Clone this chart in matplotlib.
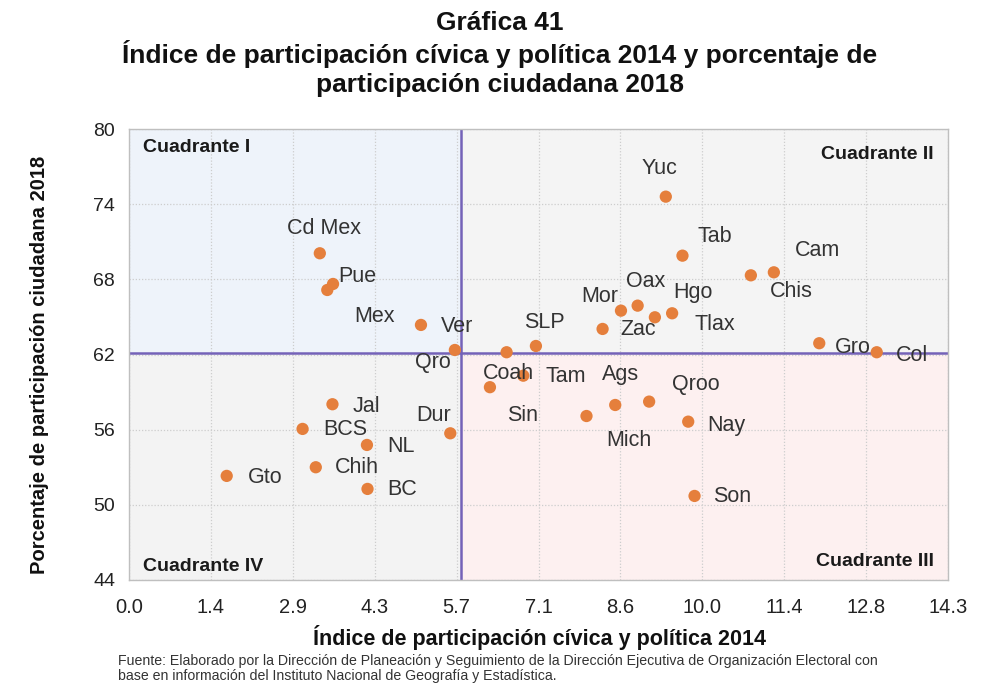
import matplotlib
matplotlib.use("Agg")
import matplotlib.pyplot as plt

# data
estados = ["Cd Mex", "Pue", "Mex", "Ver", "Qro", "Yuc", "Tab", "Chis", "Cam", "Mor",
           "Oax", "Zac", "Hgo", "Tlax", "SLP", "Gro", "Col", "Coah", "Tam", "Sin",
           "Mich", "Ags", "Qroo", "Nay", "Son", "Jal", "BCS", "NL", "Chih", "Gto",
           "BC", "Dur"]
indice_2014 = [3.32, 3.55, 3.45, 5.08, 5.67, 9.34, 9.63, 10.82, 11.22, 8.56,
               8.85, 8.24, 9.15, 9.45, 7.08, 12.01, 13.01, 6.57, 6.86, 6.28,
               7.96, 8.46, 9.05, 9.73, 9.84, 3.54, 3.02, 4.14, 3.25, 1.70,
               4.15, 5.59]
participacion_2018 = [70.08, 67.63, 67.15, 64.36, 62.36, 74.60, 69.89, 68.32, 68.56, 65.50,
                      65.90, 64.04, 64.97, 65.29, 62.68, 62.90, 62.18, 62.18, 60.31, 59.39,
                      57.09, 57.97, 58.24, 56.64, 50.71, 58.03, 56.06, 54.78, 53.00, 52.31,
                      51.27, 55.71]
media_x = 5.78
media_y = 62.12
x_ticklabels = ["0.0", "1.4", "2.9", "4.3", "5.7", "7.1", "8.6", "10.0", "11.4", "12.8", "14.3"]
y_ticks = [44, 50, 56, 62, 68, 74, 80]

# label offsets in pixels (dx, dy) from each point
offsets = {
    "Cd Mex": (4, 25), "Pue": (24, 7), "Mex": (47, -27), "Ver": (36, -2), "Qro": (-22, -13),
    "Yuc": (-6, 28), "Tab": (32, 19), "Chis": (40, -16), "Cam": (44, 22), "Mor": (-21, 14),
    "Oax": (8, 24), "Zac": (36, -1), "Hgo": (38, 25), "Tlax": (43, -11), "SLP": (8, 23),
    "Gro": (34, -4), "Col": (35, -3), "Coah": (2, -21), "Tam": (42, -1), "Sin": (33, -28),
    "Mich": (42, -24), "Ags": (5, 30), "Qroo": (47, 17), "Nay": (38, -4), "Son": (38, -1),
    "Jal": (34, -2), "BCS": (43, -1), "NL": (34, -2), "Chih": (41, 0), "Gto": (38, -2),
    "BC": (35, -1), "Dur": (-17, 18),
}

plt.rcParams["font.family"] = ["Liberation Sans", "DejaVu Sans"]

fig = plt.figure(figsize=(9.9, 6.92), dpi=100)
ax = fig.add_axes([129 / 990, 1 - 580 / 692, 819 / 990, 451 / 692])

xmin, xmax = 0, 14.25
ymin, ymax = 44, 80
ax.set_xlim(xmin, xmax)
ax.set_ylim(ymin, ymax)

# quadrant backgrounds
frac = (media_y - ymin) / (ymax - ymin)
ax.axvspan(xmin, media_x, ymin=frac, ymax=1, color="#EEF3FA", zorder=0, lw=0)
ax.axvspan(media_x, xmax, ymin=frac, ymax=1, color="#F4F4F4", zorder=0, lw=0)
ax.axvspan(media_x, xmax, ymin=0, ymax=frac, color="#FDF0F0", zorder=0, lw=0)
ax.axvspan(xmin, media_x, ymin=0, ymax=frac, color="#F3F3F3", zorder=0, lw=0)

xt = [xmin + i * (xmax - xmin) / 10 for i in range(11)]
ax.set_xticks(xt)
ax.set_xticklabels(x_ticklabels, fontsize=14.5)
ax.set_yticks(y_ticks)
ax.set_yticklabels([str(v) for v in y_ticks], fontsize=14)
ax.tick_params(axis="x", length=0, pad=13, colors="#222222")
ax.tick_params(axis="y", length=0, pad=10, colors="#222222")
ax.grid(True, color="#CDCDCD", linestyle=(0, (1, 1.5)), linewidth=0.9, zorder=1)
for s in ax.spines.values():
    s.set_color("#BFBFBF")
    s.set_linewidth(1)

ax.axvline(media_x, color="#7462B8", lw=1.8, zorder=2)
ax.axhline(media_y, color="#7462B8", lw=1.8, zorder=2)

ax.scatter(indice_2014, participacion_2018, s=78, color="#E57F3C", edgecolors="none", zorder=3)

for name, xv, yv in zip(estados, indice_2014, participacion_2018):
    dx, dy = offsets[name]
    ax.annotate(name, (xv, yv), xytext=(dx, dy), textcoords="offset pixels",
                ha="center", va="center", fontsize=15.5, color="#333333", zorder=4)

qkw = dict(transform=ax.transAxes, fontsize=14, fontweight="bold", color="#1a1a1a", va="center")
ax.text(0.017, 0.958, "Cuadrante I", ha="left", **qkw)
ax.text(0.983, 0.944, "Cuadrante II", ha="right", **qkw)
ax.text(0.983, 0.040, "Cuadrante III", ha="right", **qkw)
ax.text(0.017, 0.031, "Cuadrante IV", ha="left", **qkw)

tkw = dict(ha="center", va="center", fontsize=19, fontweight="bold", color="#111111")
fig.text(0.505, 1 - 23 / 692, "Gráfica 41", **tkw)
fig.text(0.505, 1 - 54 / 692, "Índice de participación cívica y política 2014 y porcentaje de", **tkw)
fig.text(0.505, 1 - 85 / 692, "participación ciudadana 2018", **tkw)

fig.text(0.545, 1 - 638 / 692, "Índice de participación cívica y política 2014", ha="center",
         va="center", fontsize=15.5, fontweight="bold", color="#111111")
fig.text(40 / 990, 1 - 365 / 692, "Porcentaje de participación ciudadana 2018", ha="center",
         va="center", rotation=90, fontsize=14.5, fontweight="bold", color="#111111")

fkw = dict(ha="left", va="center", fontsize=10.2, color="#333333")
fig.text(118 / 990, 1 - 661 / 692,
         "Fuente: Elaborado por la Dirección de Planeación y Seguimiento de la Dirección Ejecutiva de Organización Electoral con",
         **fkw)
fig.text(118 / 990, 1 - 676 / 692,
         "base en información del Instituto Nacional de Geografía y Estadística.", **fkw)

fig.savefig("out.png", dpi=100)
